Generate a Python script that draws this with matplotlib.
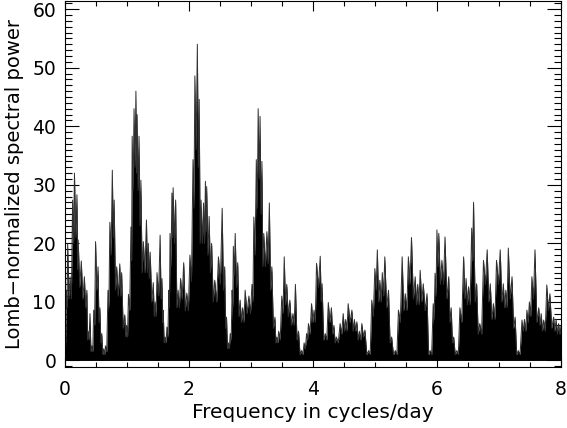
import matplotlib
matplotlib.use("Agg")
import matplotlib.pyplot as plt
from matplotlib.ticker import MultipleLocator
import numpy as np

# peak frequencies (cycles/day) and spike-top Lomb power
freq = [0.00, 0.03, 0.05, 0.09, 0.13, 0.16, 0.20, 0.22, 0.27, 0.32, 0.36, 0.38, 0.41, 0.44, 0.47,
        0.50, 0.54, 0.57, 0.60, 0.63, 0.66, 0.70, 0.73, 0.77, 0.80, 0.84, 0.89, 0.92, 0.97, 1.00,
        1.03, 1.07, 1.09, 1.12, 1.15, 1.17, 1.20, 1.23, 1.27, 1.32, 1.35, 1.38, 1.43, 1.46, 1.49,
        1.54, 1.57, 1.59, 1.62, 1.65, 1.68, 1.70, 1.73, 1.75, 1.79, 1.83, 1.87, 1.92, 1.97, 2.02,
        2.07, 2.10, 2.14, 2.17, 2.20, 2.24, 2.27, 2.29, 2.33, 2.37, 2.42, 2.48, 2.54, 2.58, 2.61,
        2.64, 2.67, 2.70, 2.72, 2.75, 2.79, 2.83, 2.87, 2.91, 2.97, 3.02, 3.05, 3.09, 3.12, 3.15,
        3.18, 3.21, 3.26, 3.30, 3.34, 3.39, 3.42, 3.45, 3.50, 3.54, 3.58, 3.63, 3.68, 3.72, 3.77,
        3.82, 3.86, 3.90, 3.93, 3.98, 4.02, 4.06, 4.12, 4.15, 4.20, 4.25, 4.30, 4.34, 4.38, 4.44,
        4.49, 4.53, 4.57, 4.63, 4.67, 4.71, 4.75, 4.79, 4.84, 4.90, 4.95, 5.00, 5.04, 5.08, 5.12,
        5.16, 5.22, 5.27, 5.33, 5.38, 5.44, 5.49, 5.54, 5.59, 5.65, 5.69, 5.73, 5.78, 5.84, 5.89,
        5.94, 5.97, 6.00, 6.03, 6.08, 6.13, 6.19, 6.23, 6.27, 6.32, 6.37, 6.43, 6.47, 6.51, 6.56,
        6.59, 6.64, 6.69, 6.75, 6.81, 6.86, 6.91, 6.96, 7.02, 7.07, 7.11, 7.15, 7.21, 7.26, 7.31,
        7.37, 7.41, 7.45, 7.49, 7.53, 7.58, 7.64, 7.68, 7.72, 7.77, 7.82, 7.88, 7.92, 7.96, 8.00]
power = [2.0, 12.0, 20.0, 14.3, 27.4, 32.0, 28.3, 20.6, 17.0, 14.3, 12.0, 5.0, 8.0, 2.5, 8.6,
         20.3, 16.0, 9.0, 4.6, 2.0, 2.5, 12.0, 23.6, 32.5, 27.4, 16.0, 16.5, 15.0, 7.8, 6.0,
         11.3, 22.8, 38.3, 43.0, 46.0, 42.0, 38.3, 30.8, 20.3, 24.0, 20.0, 18.5, 13.3, 10.0, 15.0,
         21.4, 14.0, 8.6, 4.0, 5.7, 12.0, 21.7, 28.6, 29.5, 27.4, 12.0, 14.0, 16.7, 11.5, 18.0,
         34.3, 48.6, 54.0, 44.6, 27.4, 26.9, 30.6, 29.7, 24.6, 20.0, 13.7, 17.7, 26.0, 16.0, 7.4,
         3.0, 4.6, 12.0, 19.5, 21.7, 16.7, 10.3, 9.0, 12.0, 11.0, 13.0, 24.5, 34.3, 43.0, 41.7,
         34.0, 21.7, 22.0, 26.9, 16.0, 7.4, 4.0, 5.0, 11.0, 17.7, 13.0, 10.3, 8.0, 13.0, 5.0,
         1.7, 3.0, 4.6, 6.3, 9.7, 8.6, 16.6, 17.8, 13.1, 4.6, 9.9, 9.0, 6.0, 4.0, 6.3,
         8.0, 7.0, 9.7, 8.6, 7.0, 6.6, 5.0, 6.3, 5.2, 1.7, 10.3, 15.7, 18.9, 13.7, 15.0,
         17.7, 12.0, 4.0, 1.7, 8.6, 17.7, 11.4, 17.7, 21.0, 14.3, 13.0, 15.4, 13.1, 11.4, 1.7,
         9.7, 14.9, 22.3, 21.7, 17.1, 21.1, 14.3, 9.0, 4.0, 1.7, 9.0, 17.7, 14.0, 12.6, 22.6,
         27.0, 13.1, 6.3, 17.1, 18.9, 13.1, 9.7, 17.1, 18.9, 13.1, 12.0, 19.2, 14.3, 7.4, 1.7,
         6.9, 7.0, 8.6, 10.0, 14.3, 18.9, 9.0, 8.0, 6.9, 12.9, 11.4, 7.4, 7.0, 6.3, 6.0]
# top of the solid black band just after each spike
core = [1.5, 9.0, 10.5, 10.5, 20.0, 21.0, 15.5, 12.5, 10.5, 9.0, 3.5, 3.5, 1.5, 1.5, 6.0,
        12.0, 6.5, 3.0, 1.0, 1.0, 1.5, 9.0, 18.0, 21.0, 12.0, 11.0, 11.0, 5.5, 4.0, 4.0,
        8.5, 17.0, 29.0, 33.0, 32.0, 29.0, 23.0, 15.0, 15.0, 15.0, 14.0, 10.0, 7.5, 7.5, 11.0,
        10.5, 6.5, 3.0, 3.0, 4.0, 9.0, 16.0, 21.0, 20.0, 9.0, 9.0, 10.5, 8.5, 8.5, 13.5,
        26.0, 36.0, 33.0, 20.0, 20.0, 20.0, 22.0, 18.0, 15.0, 10.0, 10.0, 13.0, 12.0, 5.5, 2.0,
        2.0, 3.5, 9.0, 14.5, 12.5, 7.5, 6.5, 6.5, 8.0, 8.0, 10.0, 18.0, 26.0, 31.0, 25.0,
        16.0, 16.0, 16.5, 12.0, 5.5, 3.0, 3.0, 3.5, 8.0, 9.5, 7.5, 6.0, 6.0, 3.5, 1.0,
        1.0, 2.0, 3.5, 4.5, 6.5, 6.5, 12.5, 10.0, 3.5, 3.5, 6.5, 4.5, 3.0, 3.0, 4.5,
        5.0, 5.0, 6.5, 5.0, 5.0, 3.5, 3.5, 4.0, 1.0, 1.0, 7.5, 12.0, 10.0, 10.0, 11.0,
        9.0, 3.0, 1.0, 1.0, 6.5, 8.5, 8.5, 13.0, 10.5, 9.5, 9.5, 10.0, 8.5, 1.0, 1.0,
        7.0, 11.0, 16.0, 13.0, 13.0, 10.5, 6.5, 3.0, 1.0, 1.0, 6.5, 10.5, 9.5, 9.5, 17.0,
        10.0, 4.5, 4.5, 13.0, 10.0, 7.0, 7.0, 13.0, 10.0, 9.0, 9.0, 10.5, 5.5, 1.0, 1.0,
        5.0, 5.0, 6.5, 7.5, 10.5, 6.5, 6.0, 5.0, 5.0, 8.5, 5.5, 5.0, 4.5, 4.5, 4.5]

# interleave spike tops and band tops into one periodogram trace
f = np.array(freq)
p = np.array(power)
c = np.array(core)
mid = np.append((f[:-1] + f[1:]) / 2, f[-1])
x = np.column_stack([f, mid]).ravel()
y = np.column_stack([p, c]).ravel()

plt.rcParams['font.family'] = ['DejaVu Sans']
fig = plt.figure(figsize=(5.67, 4.28), dpi=100)
ax = fig.add_axes([0.1138, 0.1414, 0.8757, 0.8563])

ax.fill_between(x, 0, y, color='black', linewidth=0)
ax.plot(x, y, color='#303030', linewidth=0.7)

ax.set_xlim(0, 8)
ax.set_ylim(-1.2, 61.4)
ax.xaxis.set_major_locator(MultipleLocator(2))
ax.xaxis.set_minor_locator(MultipleLocator(0.5))
ax.yaxis.set_major_locator(MultipleLocator(10))
ax.yaxis.set_minor_locator(MultipleLocator(1))
ax.tick_params(axis='both', which='both', direction='in', top=True, right=True,
               labelsize=13.5, width=0.8, colors='black')
ax.tick_params(axis='x', which='major', length=7, pad=9)
ax.tick_params(axis='x', which='minor', length=3.5)
ax.tick_params(axis='y', which='major', length=10, pad=6)
ax.tick_params(axis='y', which='minor', length=5)
for s in ax.spines.values():
    s.set_linewidth(0.8)

ax.set_xlabel('Frequency in cycles/day', fontsize=14.5, labelpad=3)
ax.set_ylabel('Lomb\u2212normalized spectral power', fontsize=14, labelpad=6)

fig.savefig('out.png', dpi=100)
